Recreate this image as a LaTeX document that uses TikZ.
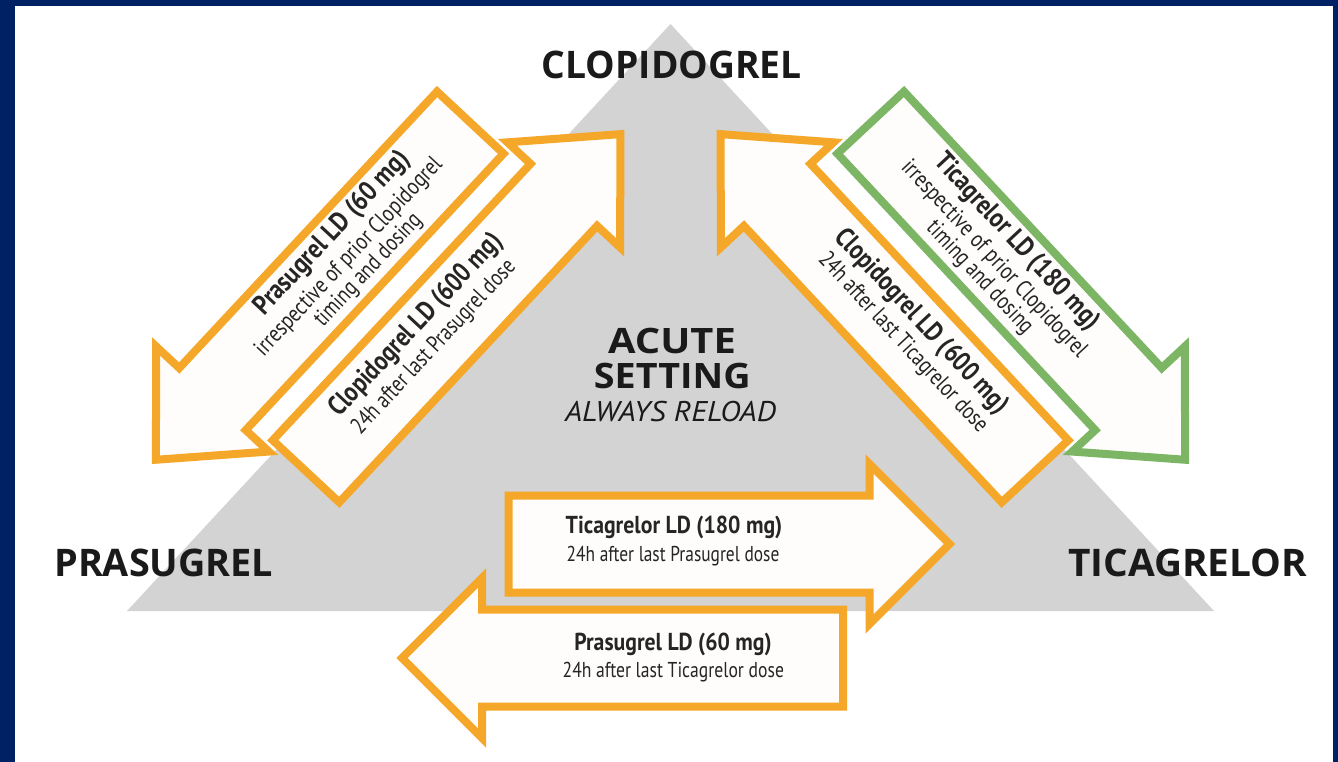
\documentclass[tikz,border=0pt]{standalone}
\usepackage{fontspec}
\usepackage{graphicx}
\setmainfont{PT Sans}
\newfontfamily\headfont{Open Sans}
\newfontfamily\dosefont{PT Sans}

\definecolor{navy}{RGB}{0,33,99}
\definecolor{reloadorange}{RGB}{245,167,41}
\definecolor{reloadgreen}{RGB}{124,182,101}
\definecolor{trigray}{RGB}{211,211,211}
\definecolor{inkdark}{RGB}{26,26,26}
\definecolor{inktext}{RGB}{38,36,36}
\definecolor{arrowfill}{RGB}{254,253,251}

% squeeze or stretch a line of text to a given width (in pt), keeping its height
\newcommand{\fitto}[2]{\resizebox{#1pt}{\height}{#2}}

\tikzset{
  arrowbox/.style={line width=8pt, fill=arrowfill, line join=miter},
  orangebox/.style={arrowbox, draw=reloadorange},
  greenbox/.style={arrowbox, draw=reloadgreen},
  txt/.style={anchor=base, inner sep=0pt, outer sep=0pt},
  drug/.style={txt, text=inkdark, font=\headfont\bfseries\fontsize{38}{40}\selectfont},
  setting/.style={txt, text=inkdark, font=\headfont\bfseries\fontsize{35}{37}\selectfont},
  reload/.style={txt, text=inkdark, font=\dosefont\itshape\fontsize{28.5}{30}\selectfont},
  flatmain/.style={txt, text=inktext, font=\dosefont\bfseries\fontsize{24.5}{26}\selectfont},
  flatsub/.style={txt, text=inktext, font=\dosefont\fontsize{21.5}{23}\selectfont},
  slantmain/.style={txt, text=inktext, font=\dosefont\bfseries\fontsize{27.5}{29}\selectfont},
  slantsub/.style={txt, text=inktext, font=\dosefont\fontsize{23.5}{25}\selectfont},
}

\begin{document}
\begin{tikzpicture}[x=1pt, y=-1pt]
  \useasboundingbox (0,0) rectangle (1338,762);
  % frame
  \fill[navy] (0,0) rectangle (1338,762);
  \fill[white] (15,6) rectangle (1333,762);

  % background triangle
  \fill[trigray] (670.5,24) -- (1214,611) -- (127,611) -- cycle;

  % corner labels
  \node[drug] (clop) at (671.7,79) {\fitto{260}{CLOPIDOGREL}};
  \node[drug] (pras) at (163.8,576.5) {\fitto{219}{PRASUGREL}};
  \node[drug] (tica) at (1187.8,576.5) {\fitto{239}{TICAGRELOR}};

  % centre caption
  \node[setting] (acute) at (672,353.3) {\fitto{127.7}{ACUTE}};
  \node[setting] (setting) at (672.3,388.3) {\fitto{156.7}{SETTING}};
  \node[reload] (reload) at (670.5,421.7) {\fitto{211}{ALWAYS RELOAD}};

  % Clopidogrel -> Prasugrel (down-left)
  \begin{scope}[shift={(470.3,122.6)}, rotate=227]
    \draw[orangebox] (0,-45.5) -- (378,-45.5) -- (378,-77) -- (461,0)
      -- (378,77) -- (378,45.5) -- (0,45.5) -- cycle;
    \node[slantmain, rotate=47] (cp1) at (175,18.5) {\fitto{214}{Prasugrel LD (60 mg)}};
    \node[slantsub, rotate=47] (cp2) at (181,-9.2) {\fitto{263}{irrespective of prior Clopidogrel}};
    \node[slantsub, rotate=47] (cp3) at (177.5,-32.3) {\fitto{146}{timing and dosing}};
  \end{scope}

  % Prasugrel -> Clopidogrel (up-right)
  \begin{scope}[shift={(306.0,471.3)}, rotate=47]
    \draw[orangebox] (0,-45.5) -- (378,-45.5) -- (378,-77) -- (461,0)
      -- (378,77) -- (378,45.5) -- (0,45.5) -- cycle;
    \node[slantmain, rotate=47] (pc1) at (182,-11.8) {\fitto{240}{Clopidogrel LD (600 mg)}};
    \node[slantsub, rotate=47] (pc2) at (178,15.2) {\fitto{228.7}{24h after last Prasugrel dose}};
  \end{scope}

  % Clopidogrel -> Ticagrelor (down-right)
  \begin{scope}[shift={(870.7,122.6)}, rotate=-47]
    \draw[greenbox] (0,-45.5) -- (378,-45.5) -- (378,-77) -- (461,0)
      -- (378,77) -- (378,45.5) -- (0,45.5) -- cycle;
    \node[slantmain, rotate=-47] (ct1) at (186.7,-18.5) {\fitto{230}{Ticagrelor LD (180 mg)}};
    \node[slantsub, rotate=-47] (ct2) at (184,9.2) {\fitto{261}{irrespective of prior Clopidogrel}};
    \node[slantsub, rotate=-47] (ct3) at (187.8,32.3) {\fitto{145}{timing and dosing}};
  \end{scope}

  % Ticagrelor -> Clopidogrel (up-left)
  \begin{scope}[shift={(1035.0,471.3)}, rotate=133]
    \draw[orangebox] (0,-45.5) -- (378,-45.5) -- (378,-77) -- (461,0)
      -- (378,77) -- (378,45.5) -- (0,45.5) -- cycle;
    \node[slantmain, rotate=-47] (tc1) at (187,11.8) {\fitto{241}{Clopidogrel LD (600 mg)}};
    \node[slantsub, rotate=-47] (tc2) at (184,-15.2) {\fitto{237}{24h after last Ticagrelor dose}};
  \end{scope}

  % Prasugrel -> Ticagrelor (right)
  \begin{scope}[shift={(508.5,544)}]
    \draw[orangebox] (0,-48.5) -- (361,-48.5) -- (361,-80) -- (441,0)
      -- (361,80) -- (361,48.5) -- (0,48.5) -- cycle;
  \end{scope}
  \node[flatmain] (pt1) at (674,533.3) {\fitto{216.7}{Ticagrelor LD (180 mg)}};
  \node[flatsub] (pt2) at (673,561.7) {\fitto{212.7}{24h after last Prasugrel dose}};

  % Ticagrelor -> Prasugrel (left)
  \begin{scope}[shift={(843,658)}, rotate=180]
    \draw[orangebox] (0,-48.5) -- (361,-48.5) -- (361,-80) -- (441,0)
      -- (361,80) -- (361,48.5) -- (0,48.5) -- cycle;
  \end{scope}
  \node[flatmain] (tp1) at (673,650) {\fitto{197.4}{Prasugrel LD (60 mg)}};
  \node[flatsub] (tp2) at (673.3,677.7) {\fitto{221.3}{24h after last Ticagrelor dose}};
\end{tikzpicture}
\end{document}
